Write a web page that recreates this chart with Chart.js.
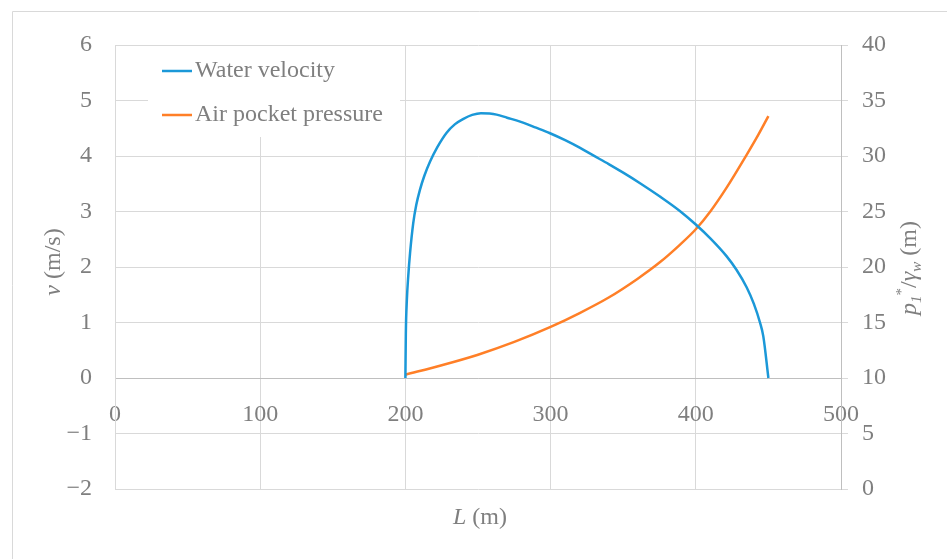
<!DOCTYPE html>
<html>
<head>
<meta charset="utf-8">
<title>Water velocity and air pocket pressure</title>
<script src="https://cdn.jsdelivr.net/npm/chart.js@4.4.1/dist/chart.umd.min.js"></script>
<style>
  html, body { margin: 0; padding: 0; background: #fff; }
</style>
</head>
<body>
<canvas id="chart" width="947" height="559"></canvas>
<script>
// water velocity v (m/s) against column length L (m)
const velocityL = [200, 200.3, 201, 202, 203.2, 205.4, 207.5, 210, 213, 217, 222, 228.4, 234, 240, 246, 252, 258, 262.8, 270, 279, 290, 299.6, 310, 320, 329.4, 340, 350, 361.6, 375.3, 389, 400, 410, 421, 428, 435, 440, 444.2, 446.5, 450];
const velocity = [0, 0.8, 1.4, 1.85, 2.25, 2.79, 3.12, 3.39, 3.64, 3.90, 4.16, 4.42, 4.57, 4.67, 4.74, 4.772, 4.765, 4.745, 4.69, 4.62, 4.51, 4.41, 4.285, 4.15, 4.01, 3.855, 3.70, 3.51, 3.27, 3.01, 2.765, 2.515, 2.20, 1.95, 1.635, 1.335, 1.0, 0.75, 0];

// air pocket pressure head p1*/γw (m) against column length L (m)
const pressureL = [200, 225, 250, 275, 300, 320, 340, 360, 375, 389, 400, 410, 421, 435, 443, 450];
const pressure = [10.3, 11.15, 12.1, 13.25, 14.6, 15.85, 17.25, 18.95, 20.4, 22.0, 23.4, 25.0, 27.1, 30.1, 31.9, 33.6];

// axis ticks
const lTicks = [0, 100, 200, 300, 400, 500];
const vTicks = [-2, -1, 0, 1, 2, 3, 4, 5, 6];
const pTicks = [0, 5, 10, 15, 20, 25, 30, 35, 40];

const seriesColors = ['#1b98d8', '#ff7f27'];
const serif = 'Liberation Serif';
const textGrey = '#7f7f7f';
const gridGrey = '#d9d9d9';
const axisGrey = '#bfbfbf';

const toPoints = (xs, ys) => xs.map((x, i) => ({ x, y: ys[i] }));
const setTicks = (list) => (axis) => {
  axis.ticks = list.map((value) => ({ value }));
};
const withMinus = (val) => (val < 0 ? '\u2212' + Math.abs(val) : String(val));

// text made of runs with their own font and baseline shift
function drawRuns(ctx, runs, cx, cy, angle) {
  ctx.save();
  ctx.translate(cx, cy);
  ctx.rotate(angle);
  ctx.fillStyle = textGrey;
  ctx.textAlign = 'left';
  ctx.textBaseline = 'alphabetic';
  let total = 0;
  runs.forEach((r) => {
    ctx.font = r.font;
    r.w = ctx.measureText(r.text).width;
    total += r.w;
  });
  let x = -total / 2;
  runs.forEach((r) => {
    ctx.font = r.font;
    ctx.fillText(r.text, x, 8 + (r.dy || 0));
    x += r.w;
  });
  ctx.restore();
}

const big = `24px "${serif}"`;
const bigItalic = `italic 24px "${serif}"`;
const small = `15px "${serif}"`;
const smallItalic = `italic 15px "${serif}"`;

const decor = {
  id: 'decor',
  beforeDraw(chart) {
    const ctx = chart.ctx;
    ctx.save();
    ctx.strokeStyle = gridGrey;
    ctx.lineWidth = 1;
    ctx.beginPath();
    ctx.moveTo(12.5, chart.height);
    ctx.lineTo(12.5, 11.5);
    ctx.lineTo(chart.width, 11.5);
    ctx.stroke();
    ctx.restore();
  },
  beforeDatasetsDraw(chart) {
    // legend box in the top left corner of the plot
    const ctx = chart.ctx;
    ctx.save();
    ctx.fillStyle = '#fff';
    ctx.fillRect(148, 46, 252, 91);
    ctx.font = big;
    ctx.textBaseline = 'middle';
    chart.data.datasets.forEach((ds, i) => {
      const y = 71 + i * 44;
      ctx.strokeStyle = ds.borderColor;
      ctx.lineWidth = 2.5;
      ctx.beginPath();
      ctx.moveTo(162, y);
      ctx.lineTo(192, y);
      ctx.stroke();
      ctx.fillStyle = textGrey;
      ctx.fillText(ds.label, 195, y);
    });
    ctx.restore();
  },
  afterDraw(chart) {
    const ctx = chart.ctx;
    drawRuns(ctx, [
      { text: 'L', font: bigItalic },
      { text: ' (m)', font: big },
    ], 480, 516, 0);
    drawRuns(ctx, [
      { text: 'v', font: bigItalic },
      { text: ' (m/s)', font: big },
    ], 52, 262, -Math.PI / 2);
    drawRuns(ctx, [
      { text: 'p', font: bigItalic },
      { text: '1', font: smallItalic, dy: 5 },
      { text: '*', font: small, dy: -10 },
      { text: '/', font: big },
      { text: 'γ', font: bigItalic },
      { text: 'w', font: smallItalic, dy: 5 },
      { text: ' (m)', font: big },
    ], 908, 268, -Math.PI / 2);
  },
};

const tickFont = { family: serif, size: 24 };

new Chart(document.getElementById('chart'), {
  type: 'line',
  data: {
    datasets: [
      {
        label: 'Water velocity',
        data: toPoints(velocityL, velocity),
        yAxisID: 'y',
        borderColor: seriesColors[0],
        borderWidth: 2.5,
        pointRadius: 0,
        cubicInterpolationMode: 'monotone',
      },
      {
        label: 'Air pocket pressure',
        data: toPoints(pressureL, pressure),
        yAxisID: 'y1',
        borderColor: seriesColors[1],
        borderWidth: 2.5,
        pointRadius: 0,
        cubicInterpolationMode: 'monotone',
      },
    ],
  },
  options: {
    responsive: false,
    animation: false,
    layout: { padding: { top: 45, bottom: 70, left: 0, right: 0 } },
    plugins: {
      legend: { display: false },
      tooltip: { enabled: false },
    },
    scales: {
      x: {
        type: 'linear',
        position: { y: 0 },
        min: 0,
        max: 500,
        afterBuildTicks: setTicks(lTicks),
        grid: { color: gridGrey, drawTicks: false },
        border: { color: axisGrey },
        ticks: { color: textGrey, font: tickFont, padding: 22, maxRotation: 0 },
      },
      y: {
        position: 'left',
        min: -2,
        max: 6,
        afterBuildTicks: setTicks(vTicks),
        afterFit: (scale) => { scale.width = 115; },
        grid: { color: gridGrey, drawTicks: false },
        border: { color: gridGrey },
        ticks: { color: textGrey, font: tickFont, padding: 23, callback: withMinus },
      },
      y1: {
        position: 'right',
        min: 0,
        max: 40,
        afterBuildTicks: setTicks(pTicks),
        afterFit: (scale) => { scale.width = 106; },
        grid: { color: gridGrey, drawOnChartArea: false, tickLength: 7 },
        border: { color: axisGrey },
        ticks: { color: textGrey, font: tickFont, padding: 14 },
      },
    },
  },
  plugins: [decor],
});
</script>
</body>
</html>
